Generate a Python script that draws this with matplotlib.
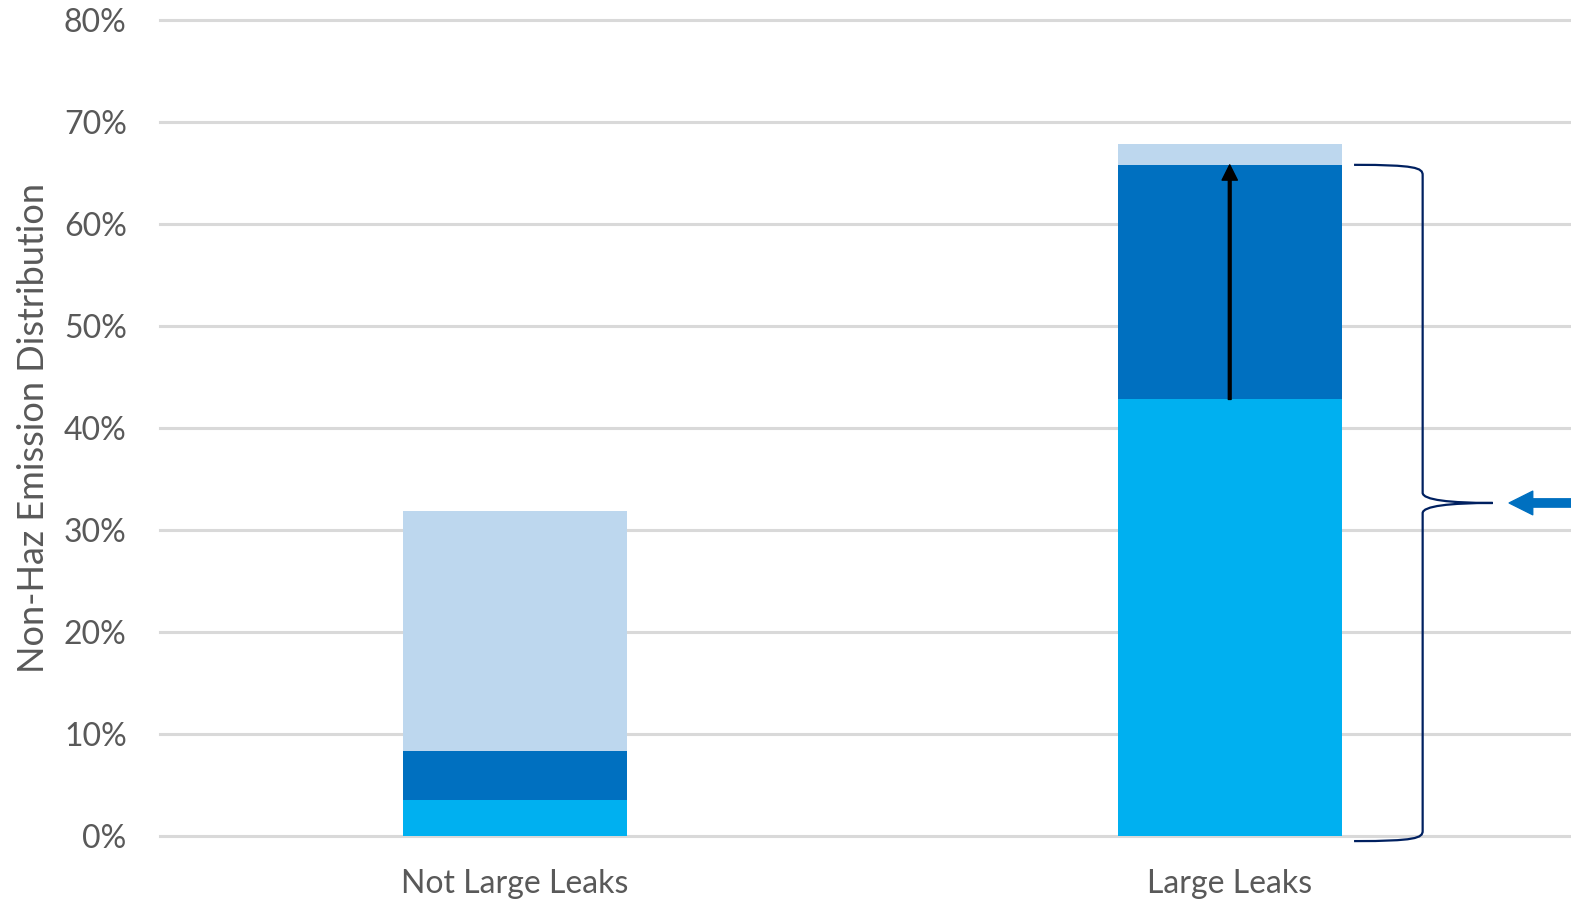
import numpy as np
import matplotlib.pyplot as plt
from matplotlib.patches import FancyArrowPatch, PathPatch
from matplotlib.path import Path
from matplotlib.ticker import PercentFormatter

plt.rcParams['font.family'] = ['Lato', 'DejaVu Sans']

categories = ["Not Large Leaks", "Large Leaks"]
# stacked segments, bottom to top (fractions)
seg_bottom = [0.0355, 0.428]
seg_middle = [0.0475, 0.230]
seg_top = [0.236, 0.020]
seg_colors = ["#00B0F0", "#0070C0", "#BDD7EE"]

yticks = np.arange(0, 0.81, 0.1)
grey = "#595959"

fig = plt.figure(figsize=(15.71, 9.0), dpi=100)
ax = fig.add_axes([160 / 1571, 64 / 900, 1 - 160 / 1571, 816 / 900])

x = np.arange(len(categories))
w = 0.313
b1 = np.array(seg_bottom)
b2 = b1 + np.array(seg_middle)
ax.bar(x, seg_bottom, w, color=seg_colors[0], zorder=2)
ax.bar(x, seg_middle, w, bottom=b1, color=seg_colors[1], zorder=2)
ax.bar(x, seg_top, w, bottom=b2, color=seg_colors[2], zorder=2)

ax.set_xlim(-0.497, 1.4776)
ax.set_ylim(0, 0.8)
ax.set_yticks(yticks)
ax.yaxis.set_major_formatter(PercentFormatter(1.0, decimals=0))
ax.set_xticks(x)
ax.set_xticklabels(categories)
ax.tick_params(axis='both', length=0, colors=grey, labelsize=23)
ax.tick_params(axis='y', pad=24)
ax.tick_params(axis='x', pad=24)
ax.grid(axis='y', color="#D9D9D9", lw=2.2, zorder=0)
for gl in ax.get_ygridlines():
    gl.set_clip_on(False)
for s in ax.spines.values():
    s.set_visible(False)
ax.set_ylabel("Non-Haz Emission Distribution", color=grey, fontsize=26, labelpad=10)

# growth arrow inside the large leaks bar
ax.add_patch(FancyArrowPatch((x[1], b1[1]), (x[1], b2[1]),
                             arrowstyle="simple,head_length=11,head_width=11,tail_width=2",
                             mutation_scale=1, color="black", shrinkA=0, shrinkB=0, zorder=4))

# curly bracket to the right of the large leaks bar
xb0, xb1, xtip = 1.174, 1.270, 1.368
ytop, ybot = b2[1], -0.005
ymid = (ytop + ybot) / 2
dy = 0.01
verts = [(xb0, ytop), (xb1 - 0.01, ytop), (xb1, ytop - dy * 0.3), (xb1, ytop - dy),
         (xb1, ymid + dy),
         (xb1, ymid + dy * 0.3), (xtip - 0.06, ymid), (xtip, ymid),
         (xtip - 0.06, ymid), (xb1, ymid - dy * 0.3), (xb1, ymid - dy),
         (xb1, ybot + dy),
         (xb1, ybot + dy * 0.3), (xb1 - 0.01, ybot), (xb0, ybot)]
codes = [Path.MOVETO, Path.CURVE4, Path.CURVE4, Path.CURVE4,
         Path.LINETO,
         Path.CURVE4, Path.CURVE4, Path.CURVE4,
         Path.CURVE4, Path.CURVE4, Path.CURVE4,
         Path.LINETO,
         Path.CURVE4, Path.CURVE4, Path.CURVE4]
ax.add_patch(PathPatch(Path(verts, codes), fill=False, ec="#002060", lw=1.6,
                       clip_on=False, zorder=3))

# pointer arrow from the right edge
ax.add_patch(FancyArrowPatch((1.49, ymid), (1.391, ymid),
                             arrowstyle="simple,head_length=17,head_width=17,tail_width=6",
                             mutation_scale=1, color="#0070C0", shrinkA=0, shrinkB=0,
                             clip_on=False, zorder=4))

fig.savefig("out.png", dpi=100)
